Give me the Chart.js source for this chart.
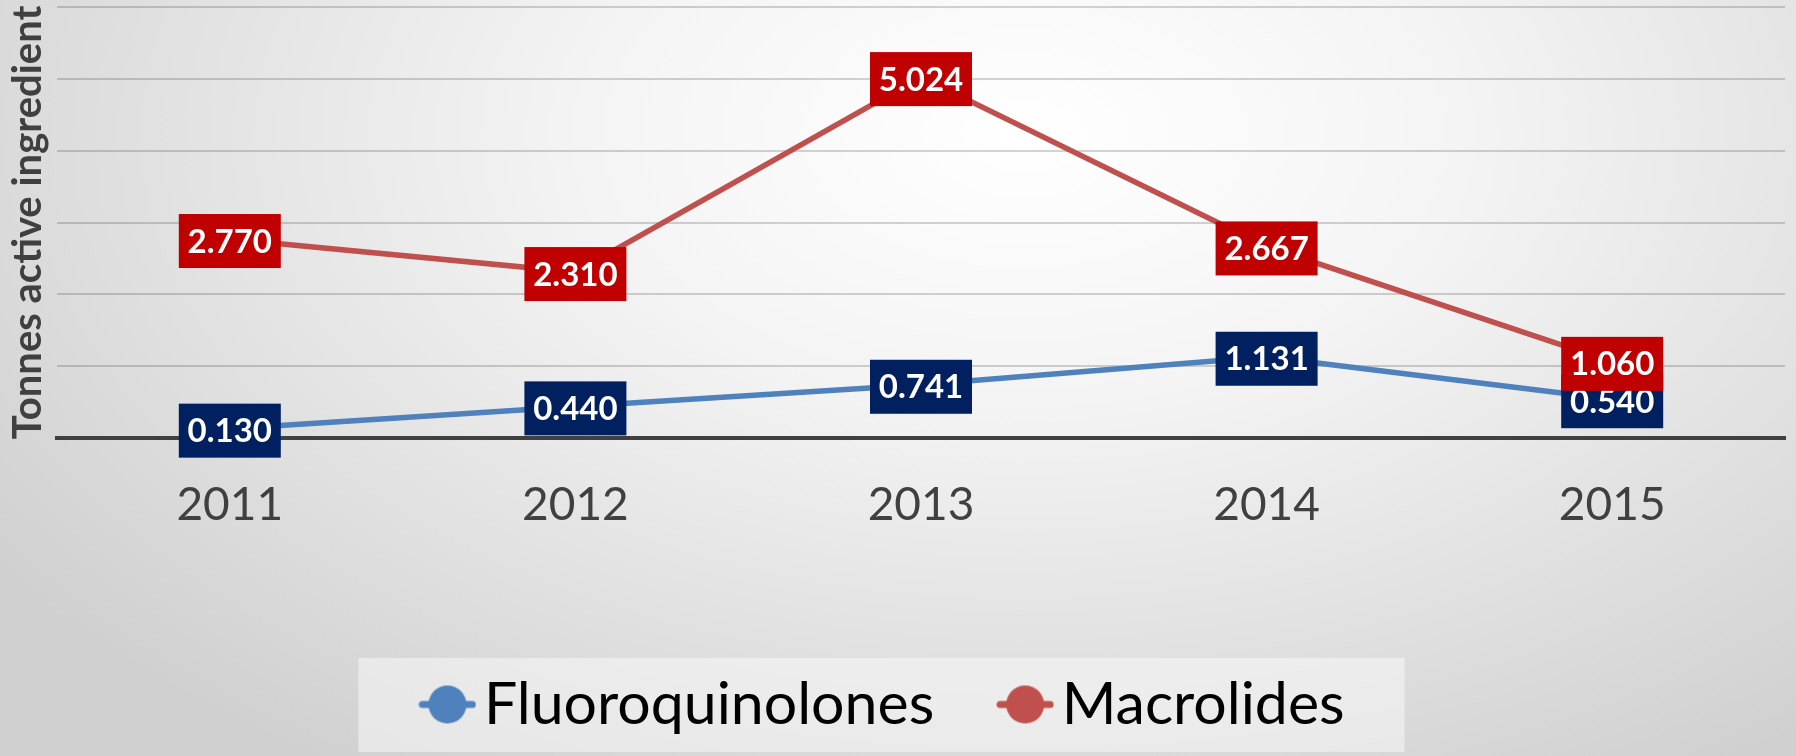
<!DOCTYPE html>
<html>
<head>
<meta charset="utf-8">
<script src="https://cdn.jsdelivr.net/npm/chart.js@4.4.0/dist/chart.umd.min.js"></script>
<style>
    html, body { margin: 0; padding: 0; }
    body {
        width: 1796px;
        height: 756px;
        overflow: hidden;
        background: radial-gradient(ellipse 70% 100% at 57% 18%, #ffffff 0%, #f4f4f4 35%, #d0d0d0 100%);
    }
    canvas { display: block; }
</style>
</head>
<body>
<canvas id="trendChart" width="1796" height="756"></canvas>
<script>
const years = ["2011", "2012", "2013", "2014", "2015"];
const fluoroquinolones = [0.130, 0.440, 0.741, 1.131, 0.540];
const macrolides = [2.770, 2.310, 5.024, 2.667, 1.060];
const yMin = 0;
const yMax = 6;
const yStep = 1;

// legend marker: short line with a dot on it
function legendMarker(color) {
    const c = document.createElement("canvas");
    c.width = 58;
    c.height = 40;
    const ctx = c.getContext("2d");
    ctx.strokeStyle = color;
    ctx.lineWidth = 7;
    ctx.lineCap = "round";
    ctx.beginPath();
    ctx.moveTo(4, 20);
    ctx.lineTo(54, 20);
    ctx.stroke();
    ctx.fillStyle = color;
    ctx.beginPath();
    ctx.arc(29, 20, 19, 0, Math.PI * 2);
    ctx.fill();
    return c;
}

const markers = {};

// value boxes on each point
const valueBoxes = {
    id: "valueBoxes",
    afterDatasetsDraw(chart) {
        const ctx = chart.ctx;
        ctx.save();
        ctx.font = "bold 33px Lato";
        ctx.textAlign = "center";
        ctx.textBaseline = "middle";
        chart.data.datasets.forEach((ds, i) => {
            chart.getDatasetMeta(i).data.forEach((pt, j) => {
                const text = ds.data[j].toFixed(3);
                const w = Math.max(ctx.measureText(text).width + 17, 102);
                ctx.fillStyle = ds.labelColor;
                ctx.fillRect(pt.x - w / 2, pt.y - 25, w, 54);
                ctx.fillStyle = "#ffffff";
                ctx.fillText(text, pt.x, pt.y + 3);
            });
        });
        ctx.restore();
    }
};

// light panel behind the legend
const legendPanel = {
    id: "legendPanel",
    beforeDraw(chart) {
        const hb = chart.legend.legendHitBoxes;
        if (!hb || !hb.length) return;
        const first = hb[0];
        const last = hb[hb.length - 1];
        const ctx = chart.ctx;
        ctx.save();
        ctx.fillStyle = "rgba(248, 248, 248, 0.55)";
        const top = first.top + 29 - 46;
        ctx.fillRect(first.left - 82, top, last.left + last.width + 60 - (first.left - 82), 94);
        ctx.restore();
    }
};

const trendChart = new Chart(document.getElementById("trendChart"), {
    type: "line",
    data: {
        labels: years,
        datasets: [
            {
                label: "Fluoroquinolones",
                data: fluoroquinolones,
                borderColor: "#4F81BD",
                backgroundColor: "#4F81BD",
                labelColor: "#002060",
                borderWidth: 5.5,
                pointRadius: 0,
                tension: 0
            },
            {
                label: "Macrolides",
                data: macrolides,
                borderColor: "#C0504D",
                backgroundColor: "#C0504D",
                labelColor: "#C00000",
                borderWidth: 5.5,
                pointRadius: 0,
                tension: 0
            }
        ]
    },
    options: {
        responsive: false,
        animation: false,
        layout: {
            padding: { top: 7, right: 11, bottom: 12, left: 0 }
        },
        plugins: {
            tooltip: { enabled: false },
            legend: {
                position: "bottom",
                labels: {
                    usePointStyle: true,
                    pointStyleWidth: 14,
                    padding: 84,
                    color: "#404040",
                    font: { family: "Lato", size: 59 },
                    generateLabels: function(chart) {
                        return chart.data.datasets.map((ds, i) => {
                            if (!markers[i]) markers[i] = legendMarker(ds.borderColor);
                            return {
                                text: ds.label,
                                pointStyle: markers[i],
                                fillStyle: ds.borderColor,
                                strokeStyle: ds.borderColor,
                                lineWidth: 0,
                                hidden: false,
                                datasetIndex: i
                            };
                        });
                    }
                }
            }
        },
        scales: {
            x: {
                offset: true,
                grid: { display: false, drawTicks: false },
                border: { display: true, color: "#404040", width: 4 },
                ticks: {
                    color: "#404040",
                    font: { family: "Lato", size: 46 },
                    padding: 40,
                    maxRotation: 0
                },
                afterFit: function(scale) { scale.height = 153; }
            },
            y: {
                min: yMin,
                max: yMax,
                ticks: { display: false, stepSize: yStep },
                grid: { color: "rgba(0, 0, 0, 0.17)", lineWidth: 2, drawTicks: false },
                border: { display: false },
                title: {
                    display: true,
                    text: "Tonnes active ingredient",
                    color: "#404040",
                    font: { family: "Lato", size: 40, weight: "bold" },
                    padding: { top: 4, bottom: 0 }
                },
                afterFit: function(scale) { scale.width = 57; }
            }
        }
    },
    plugins: [legendPanel, valueBoxes]
});
</script>
</body>
</html>
